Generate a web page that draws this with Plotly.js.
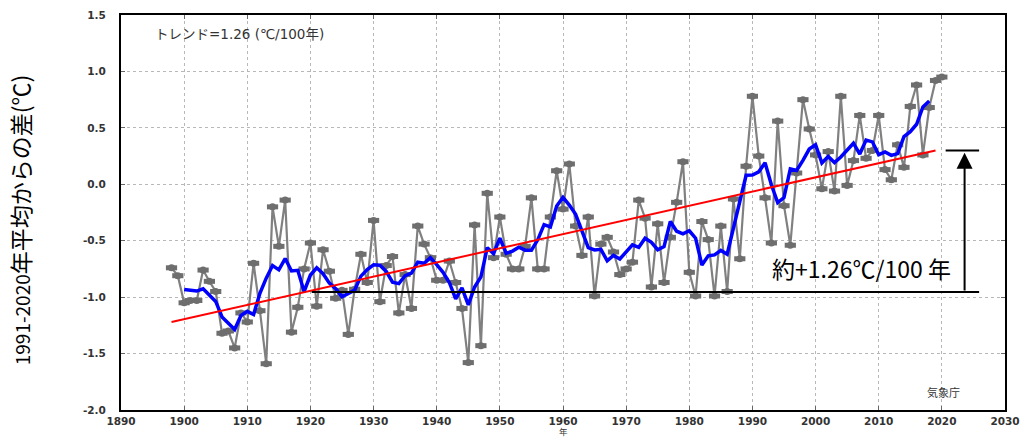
<!DOCTYPE html>
<html><head><meta charset="utf-8">
<script src="https://cdn.plot.ly/plotly-3.0.1.min.js"></script>
<style>html,body{margin:0;padding:0;background:#fff}#chart{width:1032px;height:438px}</style>
</head><body><div id="chart"></div>
<script>
// Annual anomalies
const years = [1898,1899,1900,1901,1902,1903,1904,1905,1906,1907,1908,1909,1910,1911,1912,1913,1914,1915,1916,1917,1918,1919,
  1920,1921,1922,1923,1924,1925,1926,1927,1928,1929,1930,1931,1932,1933,1934,1935,1936,1937,1938,1939,
  1940,1941,1942,1943,1944,1945,1946,1947,1948,1949,1950,1951,1952,1953,1954,1955,1956,1957,1958,1959,
  1960,1961,1962,1963,1964,1965,1966,1967,1968,1969,1970,1971,1972,1973,1974,1975,1976,1977,1978,1979,
  1980,1981,1982,1983,1984,1985,1986,1987,1988,1989,1990,1991,1992,1993,1994,1995,1996,1997,1998,1999,
  2000,2001,2002,2003,2004,2005,2006,2007,2008,2009,2010,2011,2012,2013,2014,2015,2016,2017,2018,2019,2020];
const anomaly = [-0.74,-0.81,-1.05,-1.03,-1.03,-0.76,-0.86,-0.95,-1.32,-1.30,-1.45,-1.14,-1.22,-0.70,-1.12,-1.59,-0.20,-0.55,-0.14,-1.31,-1.09,-0.75,
  -0.52,-1.08,-0.58,-0.77,-1.01,-0.94,-1.33,-0.93,-0.62,-0.87,-0.32,-1.04,-0.72,-0.64,-1.14,-0.80,-1.10,-0.37,-0.53,-0.65,
  -0.85,-0.85,-0.68,-0.87,-1.10,-1.58,-0.36,-1.43,-0.08,-0.65,-0.29,-0.62,-0.75,-0.75,-0.55,-0.12,-0.75,-0.75,-0.29,0.12,
  -0.22,0.18,-0.37,-0.63,-0.29,-0.99,-0.53,-0.47,-0.60,-0.80,-0.75,-0.69,-0.14,-0.30,-0.91,-0.35,-0.87,-0.47,-0.16,0.20,
  -0.78,-0.99,-0.33,-0.49,-0.99,-0.37,-0.95,-0.13,-0.66,0.16,0.78,0.25,-0.12,-0.52,0.56,-0.19,-0.54,0.10,0.75,0.49,
  0.26,-0.04,0.29,-0.06,0.78,-0.01,0.21,0.61,0.23,0.30,0.61,0.13,0.04,0.35,0.15,0.69,0.88,0.26,0.68,0.92,0.95];

// Long-term trend (1.26 ℃/100年)
const trendYears = [1898, 2019];
const trendValues = [-1.22, 0.30];

// Tick labels
const xTicks = [1890,1900,1910,1920,1930,1940,1950,1960,1970,1980,1990,2000,2010,2020,2030];
const yTicks = [-2.0,-1.5,-1.0,-0.5,0.0,0.5,1.0,1.5];

// 5-year centred running mean of the annual values
const maYears = [], maValues = [];
for (let i = 2; i < anomaly.length - 2; i++) {
  let s = 0;
  for (let k = -2; k <= 2; k++) s += anomaly[i + k];
  maYears.push(years[i]);
  maValues.push(s / 5);
}

const gray = '#808080';
const mk = '#6e6e6e';
const traces = [
  {x: years, y: anomaly, type: 'scatter', mode: 'lines', line: {color: gray, width: 2.2}, hoverinfo: 'skip', showlegend: false},
  {x: years, y: anomaly, type: 'scatter', mode: 'markers', marker: {symbol: 'line-ew', size: 8, line: {color: mk, width: 5}}, hoverinfo: 'skip', showlegend: false},
  {x: years, y: anomaly, type: 'scatter', mode: 'markers', marker: {symbol: 'circle', size: 7, color: mk, line: {width: 0}}, showlegend: false},
  {x: maYears, y: maValues, type: 'scatter', mode: 'lines', line: {color: '#0000ff', width: 3.5}, showlegend: false},
  {x: trendYears, y: trendValues, type: 'scatter', mode: 'lines', line: {color: '#ff0000', width: 2}, showlegend: false}
];

const tickFont = {family: 'DejaVu Sans, sans-serif', size: 10.5, color: '#333', weight: 'bold'};
const jp = 'Noto Sans CJK JP, sans-serif';

const layout = {
  width: 1032, height: 438,
  margin: {l: 121, r: 27, t: 15, b: 28},
  paper_bgcolor: '#fff', plot_bgcolor: '#fff',
  xaxis: {range: [1890, 2030], tickvals: xTicks, ticktext: xTicks.map(String),
    showgrid: true, gridcolor: '#b8b8b8', griddash: 'dot', gridwidth: 1, zeroline: false,
    showline: true, linecolor: '#000', linewidth: 2, mirror: 'ticks', ticks: 'inside', ticklen: 4, tickcolor: '#666',
    tickfont: tickFont, ticklabelstandoff: 0, fixedrange: true},
  yaxis: {range: [-2.0, 1.5], tickvals: yTicks, ticktext: yTicks.map(v => v.toFixed(1)),
    showgrid: true, gridcolor: '#b8b8b8', griddash: 'dot', gridwidth: 1, zeroline: false,
    showline: true, linecolor: '#000', linewidth: 2, mirror: 'ticks', ticks: 'inside', ticklen: 4, tickcolor: '#666',
    tickfont: tickFont, ticklabelstandoff: 11, fixedrange: true},
  shapes: [
    {type: 'line', xref: 'x', yref: 'y', x0: 1920.2, x1: 2025.9, y0: -0.955, y1: -0.955, line: {color: '#000', width: 2}},
    {type: 'line', xref: 'x', yref: 'y', x0: 2020.6, x1: 2025.9, y0: 0.30, y1: 0.30, line: {color: '#000', width: 2}}
  ],
  annotations: [
    {xref: 'x', yref: 'y', x: 2023.6, y: 0.28, axref: 'x', ayref: 'y', ax: 2023.6, ay: -0.955, text: '',
      showarrow: true, arrowhead: 2, arrowsize: 1.6, arrowwidth: 2, arrowcolor: '#000'},
    {xref: 'paper', yref: 'paper', x: 0.036, y: 0.952, xanchor: 'left', yanchor: 'middle', showarrow: false,
      text: 'トレンド=1.26 (℃/100年)', font: {family: 'DejaVu Sans, Noto Sans CJK JP, sans-serif', size: 13.5, color: '#333'}},
    {xref: 'paper', yref: 'paper', x: 0.951, y: 0.046, xanchor: 'right', yanchor: 'middle', showarrow: false,
      text: '気象庁', font: {family: jp, size: 11, color: '#333'}},
    {xref: 'paper', yref: 'paper', x: 0.838, y: 0.36, xanchor: 'center', yanchor: 'middle', showarrow: false,
      text: '約+1.26℃/100 年', font: {family: jp, size: 23, color: '#000'}},
    {xref: 'paper', yref: 'paper', x: -0.114, y: 0.481, xanchor: 'center', yanchor: 'middle', showarrow: false, textangle: -90,
      text: '1991-2020<span style="font-size:23px">年平均からの差(℃)</span>', font: {family: jp, size: 19, color: '#000'}},
    {xref: 'paper', yref: 'paper', x: 0.5, y: -0.0705, xanchor: 'center', yanchor: 'bottom', showarrow: false,
      borderpad: 0, text: '年', font: {family: jp, size: 8.5, color: '#333'}}
  ]
};

Plotly.newPlot('chart', traces, layout, {displayModeBar: false, staticPlot: true});
</script>
</body></html>
